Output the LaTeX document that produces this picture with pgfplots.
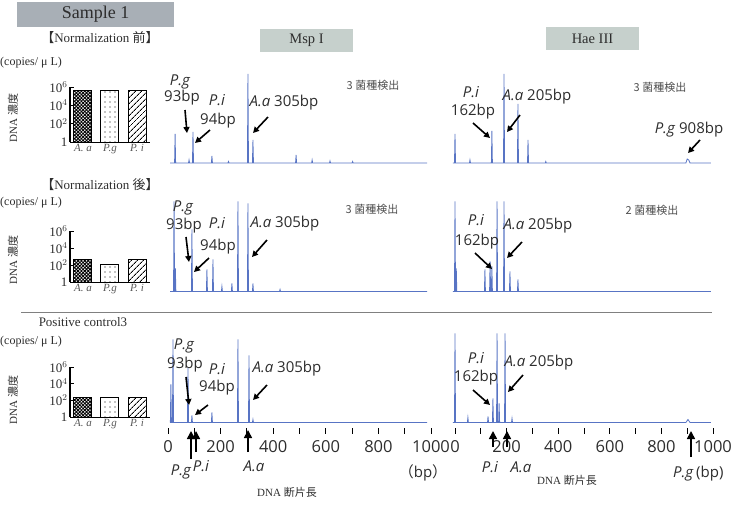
\documentclass[border=0pt]{standalone}
\usepackage{pgfplots}
\pgfplotsset{compat=1.18}
\usepackage{fontspec}
\setmainfont{Liberation Serif}
\newfontfamily\cjk{Noto Sans CJK JP}
\newfontfamily\os{Open Sans}
\usetikzlibrary{patterns,patterns.meta,arrows.meta}
\definecolor{trace}{RGB}{88,116,196}
\definecolor{txt}{RGB}{45,45,45}
\definecolor{boxA}{RGB}{168,175,182}
\definecolor{boxB}{RGB}{198,208,204}
\newcommand\fs[1]{\fontsize{#1}{#1}\selectfont}
\newcommand\an{\os\fs{15}}
\pgfplotsset{
  epax/.style={scale only axis, height=90pt, ymin=0, ymax=90, xmin=0, xmax=1000, axis lines=none, clip=false},
  mspw/.style={width=263pt},
  haew/.style={width=258pt},
  trline/.style={trace, line width=0.8pt, mark=none},
  epaxb/.style={scale only axis, height=98pt, ymin=-8, ymax=90, xmin=0, xmax=1000, clip=false,
    axis x line=bottom, axis y line=none, x axis line style={draw=none,-},
    xtick={0,100,...,1000}, xticklabels={0,,200,,400,,600,,800,,1000},
    tick align=center, major tick length=6pt, tick style={black,line width=0.9pt},
    xticklabel style={font=\os\fs{16.5}, text=txt, yshift=-3pt}},
  baraxis/.style={scale only axis, width=80pt, ymin=1, ymax=1e6, xmin=-0.48, xmax=2.48,
    separate axis lines,
    axis x line=bottom, axis y line=left,
    x axis line style={line width=0.8pt,-}, y axis line style={line width=2.2pt,-},
    ytick={1,100,10000,1000000}, yticklabels={1,10$^2$,10$^4$,10$^6$},
    tick align=inside, ytick pos=left, major tick length=4pt, ytick style={black,line width=1pt},
    yticklabel style={font=\fs{13}, text=txt, xshift=1pt},
    xtick={0,1,2}, xticklabels={A. a, P.g, P. i}, xtick style={draw=none},
    xticklabel style={font=\itshape\fs{11}, text=black!65, yshift=1pt}},
  barplot/.style={ybar, bar width=18pt, bar shift=0pt, draw=black, line width=1pt},
  paa/.style={pattern={Hatch[angle=45,distance=2.4pt,line width=0.9pt]}},
  ppg/.style={pattern={Dots[distance=5pt,radius=0.65pt]}},
  ppi/.style={pattern={Lines[angle=45,distance=4pt,line width=1pt]}}
}
\begin{document}
\begin{tikzpicture}
\useasboundingbox (0pt,0pt) rectangle (734pt,-512pt);
% ---------------- bar charts ----------------
\begin{axis}[ymode=log, baraxis, height=55pt, at={(70pt,-142pt)}, anchor=south west]
\addplot[barplot, paa] coordinates {(0,4e5)};
\addplot[barplot, ppg] coordinates {(1,4e5)};
\addplot[barplot, ppi] coordinates {(2,4e5)};
\end{axis}
\begin{axis}[ymode=log, baraxis, height=51pt, at={(70pt,-282pt)}, anchor=south west]
\addplot[barplot, paa] coordinates {(0,500)};
\addplot[barplot, ppg] coordinates {(1,120)};
\addplot[barplot, ppi] coordinates {(2,460)};
\end{axis}
\begin{axis}[ymode=log, baraxis, height=50pt, at={(70pt,-417pt)}, anchor=south west]
\addplot[barplot, paa] coordinates {(0,200)};
\addplot[barplot, ppg] coordinates {(1,200)};
\addplot[barplot, ppi] coordinates {(2,200)};
\end{axis}
% ---------------- electropherograms ----------------
\begin{axis}[epax, mspw, at={(168pt,-163pt)}, anchor=south west]
\addplot[trline] coordinates {(8,0) (25,0) (27,29) (29,0) (78,0) (80,3) (82,0) (93,0) (95,31) (97,0) (165,0) (167,7) (169,0) (228,0) (230,1.5) (232,0) (302,0) (304,89) (306,0) (321,0) (323,23) (325,0) (485,0) (487,8) (489,0) (546,0) (548,3) (550,0) (614,0) (616,2) (618,0) (700,0) (702,1.5) (704,0) (985,0)};
\end{axis}
\begin{axis}[epax, haew, at={(455pt,-163pt)}, anchor=south west]
\addplot[trline] coordinates {(-8,0) (-2,0) (0,29) (2,0) (56,0) (58,3) (60,0) (141,0) (143,32) (145,0) (188,0) (190,89) (192,0) (242,0) (244,59) (246,0) (281,0) (283,23) (285,0) (350,0) (352,1.5) (354,0) (895,0) (900,4) (906,3) (911,0) (992,0)};
\end{axis}
\begin{axis}[epax, mspw, at={(168pt,-291.5pt)}, anchor=south west]
\addplot[trline] coordinates {(8,0) (21,0) (23,90) (25,0) (26,0) (28,23) (30,0) (89,0) (91,62) (93,0) (146,0) (148,22) (150,0) (169,0) (171,32) (173,0) (203,0) (205,5) (207,0) (241,0) (243,8) (245,0) (264,0) (266,90) (268,0) (302,0) (304,88) (306,0) (321,0) (323,8) (325,0) (424,0) (426,2) (428,0) (985,0)};
\end{axis}
\begin{axis}[epax, haew, at={(455pt,-291.5pt)}, anchor=south west]
\addplot[trline] coordinates {(-8,0) (-2,0) (0,90) (2,0) (3,0) (5,23) (7,0) (114,0) (116,22) (118,0) (134,0) (136,30) (138,0) (141,0) (143,25) (145,0) (161,0) (163,90) (165,0) (188,0) (190,90) (192,0) (211,0) (213,20) (215,0) (242,0) (244,12) (246,0) (992,0)};
\end{axis}
\begin{axis}[epaxb, mspw, at={(168pt,-430.5pt)}, anchor=south west]
\addplot[trline] coordinates {(8,0) (9,0) (11,38) (13,0) (17,0) (19,83) (21,0) (74,0) (76,55) (78,0) (89,0) (91,7) (93,0) (165,0) (167,10) (169,0) (264,0) (266,83) (268,0) (306,0) (308,67) (310,0) (321,0) (323,3) (325,0) (985,0)};
\end{axis}
\begin{axis}[epaxb, haew, at={(455pt,-430.5pt)}, anchor=south west]
\addplot[trline] coordinates {(-8,0) (-2,0) (0,89) (2,0) (48,0) (50,5) (52,0) (126,0) (128,6) (130,0) (145,0) (147,24) (149,0) (161,0) (163,89) (165,0) (169,0) (171,19) (173,0) (192,0) (194,89) (196,0) (219,0) (221,4) (223,0) (895,0) (903,3) (911,0) (992,0)};
\end{axis}
% ---------------- annotations ----------------
\begin{scope}[x=1pt,y=-1pt, text=txt, ar/.style={-{Triangle[length=6pt,width=6pt]}, line width=1.6pt, black}]
\node[fill=boxA, minimum width=157pt, minimum height=25pt, inner sep=0pt, font=\fs{18}] at (95.5,14.5) {Sample 1};
\node[fill=boxB, minimum width=93pt, minimum height=23pt, inner sep=0pt, font=\fs{14.5}] at (306.5,40.5) {Msp I};
\node[fill=boxB, minimum width=93pt, minimum height=23pt, inner sep=0pt, font=\fs{14.5}] at (592.5,38.5) {Hae III};
\node[font=\fs{13}] at (100,38) {{\cjk 【}Normalization {\cjk 前】}};
\node[font=\fs{13}] at (100,185) {{\cjk 【}Normalization {\cjk 後】}};
\draw[black!50, line width=1pt] (21,312) -- (712,312);
\node[font=\fs{13}] at (83,322) {Positive control3};
\foreach \yy/\yd in {63/118, 203/260, 342/400} {
  \node[anchor=west, inner sep=0pt, font=\fs{12}] at (0,\yy) {(copies/ μ L)};
  \node[rotate=90, font=\fs{11}] at (13,\yd) {DNA {\cjk 濃度}};
}
% row 1 Msp
\node[font=\an\itshape] at (180,82) {P.g};
\node[font=\an] at (182,98) {93bp};
\draw[ar] (185,110) -- (187,133);
\node[font=\an\itshape] at (217,100) {P.i};
\node[font=\an] at (218,121) {94bp};
\draw[ar] (210,130) -- (195,143);
\node[font=\an] at (284,103) {\textit{A.a} 305bp};
\draw[ar] (268,117) -- (253,133);
\node[font=\cjk\fs{11}, text=black!70] at (373,85) {3 菌種検出};
% row 1 Hae
\node[font=\an\itshape] at (471,92) {P.i};
\node[font=\an] at (473,112) {162bp};
\draw[ar] (473,123) -- (490,138);
\node[font=\an] at (537,97) {\textit{A.a} 205bp};
\draw[ar] (520,115) -- (507,132);
\node[font=\cjk\fs{11}, text=black!70] at (660,87) {3 菌種検出};
\node[font=\an] at (689,130) {\textit{P.g} 908bp};
\draw[ar] (700,140) -- (688,153);
% row 2 Msp
\node[font=\an\itshape] at (183,208) {P.g};
\node[font=\an] at (184,226) {93bp};
\draw[ar] (186,237) -- (189,262);
\node[font=\an\itshape] at (217,223) {P.i};
\node[font=\an] at (218,247) {94bp};
\draw[ar] (209,258) -- (194,272);
\node[font=\an] at (285,224) {\textit{A.a} 305bp};
\draw[ar] (267,240) -- (252,257);
\node[font=\cjk\fs{11}, text=black!70] at (372,209) {3 菌種検出};
% row 2 Hae
\node[font=\an\itshape] at (476,220) {P.i};
\node[font=\an] at (477,242) {162bp};
\draw[ar] (475,253) -- (492,269);
\node[font=\an] at (538,226) {\textit{A.a} 205bp};
\draw[ar] (522,242) -- (507,258);
\node[font=\cjk\fs{11}, text=black!70] at (652,210) {2 菌種検出};
% row 3 Msp
\node[font=\an\itshape] at (184,346) {P.g};
\node[font=\an] at (185,365) {93bp};
\draw[ar] (186,377) -- (189,405);
\node[font=\an\itshape] at (217,369) {P.i};
\node[font=\an] at (217,388) {94bp};
\draw[ar] (208,405) -- (195,415);
\node[font=\an] at (287,369) {\textit{A.a} 305bp};
\draw[ar] (267,385) -- (253,400);
% row 3 Hae
\node[font=\an\itshape] at (476,358) {P.i};
\node[font=\an] at (476,378) {162bp};
\draw[ar] (473,390) -- (490,405);
\node[font=\an] at (539,363) {\textit{A.a} 205bp};
\draw[ar] (523,375) -- (508,392);
% bottom arrows Msp
\draw[ar, -{Triangle[length=8pt,width=8pt]}] (191,459) -- (191,431);
\draw[ar, -{Triangle[length=8pt,width=8pt]}] (196,452) -- (196,431);
\draw[ar, -{Triangle[length=8pt,width=8pt]}] (248,452) -- (248,430);
\node[font=\an\itshape] at (181,472) {P.g};
\node[font=\an\itshape] at (201,466) {P.i};
\node[font=\an\itshape] at (254,466) {A.a};
\node[font=\an] at (423,473) {{\cjk （}bp{\cjk ）}};
\node[font=\fs{11}] at (287,492) {DNA {\cjk 断片長}};
% bottom arrows Hae
\draw[ar, -{Triangle[length=8pt,width=8pt]}] (493,447) -- (493,431);
\draw[ar, -{Triangle[length=8pt,width=8pt]}] (507,447) -- (507,431);
\draw[ar, -{Triangle[length=8pt,width=8pt]}] (691,457) -- (691,431);
\node[font=\an\itshape] at (490,467) {P.i};
\node[font=\an\itshape] at (521,467) {A.a};
\node[font=\an, anchor=west, inner sep=0pt] at (673,474) {\textit{P.g}\,(bp)};
\node[font=\fs{11}] at (567,480) {DNA {\cjk 断片長}};
\end{scope}
\end{tikzpicture}
\end{document}
